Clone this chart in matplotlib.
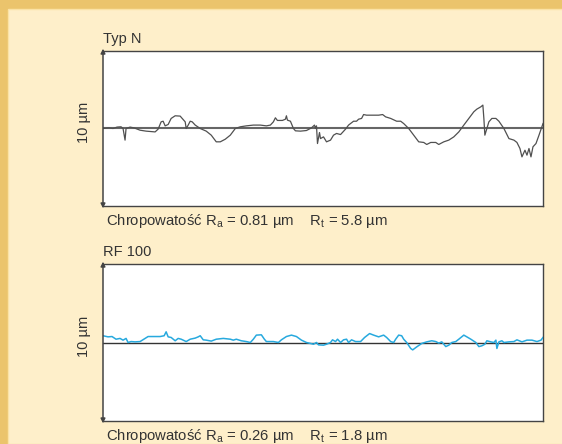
import matplotlib
matplotlib.use('Agg')
import matplotlib.pyplot as plt
from matplotlib.patches import Rectangle

plt.rcParams['font.family'] = ['Liberation Sans', 'DejaVu Sans']
plt.rcParams['mathtext.default'] = 'regular'

# ============================================================
# DATA  (position in mm, height in um)
# ============================================================
typ_n_x = [0.00, 0.06, 0.10, 0.14, 0.18, 0.20, 0.22, 0.23, 0.27, 0.31, 0.37, 0.43, 0.52, 0.55,
           0.58, 0.60, 0.62, 0.65, 0.68, 0.72, 0.77, 0.79, 0.82, 0.83, 0.85, 0.87, 0.89, 0.92,
           0.97, 1.03, 1.08, 1.13, 1.17, 1.22, 1.27, 1.32, 1.37, 1.43, 1.50, 1.57, 1.63, 1.67,
           1.70, 1.72, 1.74, 1.79, 1.82, 1.83, 1.84, 1.87, 1.90, 1.92, 1.97, 2.03, 2.08, 2.11,
           2.12, 2.13, 2.14, 2.16, 2.17, 2.20, 2.23, 2.27, 2.30, 2.33, 2.37, 2.42, 2.45, 2.50,
           2.53, 2.55, 2.58, 2.60, 2.63, 2.70, 2.75, 2.79, 2.82, 2.87, 2.93, 2.97, 3.00, 3.05,
           3.10, 3.15, 3.20, 3.23, 3.27, 3.32, 3.35, 3.40, 3.45, 3.50, 3.55, 3.60, 3.65, 3.70,
           3.73, 3.77, 3.79, 3.80, 3.81, 3.83, 3.85, 3.88, 3.92, 3.95, 4.00, 4.05, 4.10, 4.13,
           4.16, 4.18, 4.21, 4.23, 4.25, 4.27, 4.29, 4.32, 4.35, 4.39]
typ_n_y = [0.00, 0.04, 0.00, 0.09, 0.11, 0.00, -0.75, 0.00, 0.09, 0.04, -0.11, -0.17, -0.22, -0.04,
           0.43, 0.47, 0.17, 0.26, 0.65, 0.82, 0.80, 0.65, 0.43, 0.00, 0.22, 0.47, 0.43, 0.22,
           0.00, -0.17, -0.43, -0.86, -0.86, -0.69, -0.43, 0.00, 0.11, 0.17, 0.22, 0.22, 0.17, 0.22,
           0.43, 0.69, 0.52, 0.52, 0.60, 0.82, 0.54, 0.47, 0.00, -0.15, -0.17, -0.13, 0.04, 0.22,
           0.00, 0.17, -0.97, -0.26, -0.65, -0.54, -0.86, -0.75, -0.43, -0.32, -0.39, -0.04, 0.22, 0.47,
           0.47, 0.60, 0.65, 0.90, 0.86, 0.86, 0.86, 0.90, 0.75, 0.65, 0.47, 0.47, 0.32, 0.00,
           -0.43, -0.86, -0.90, -1.03, -0.90, -0.90, -1.03, -0.86, -0.75, -0.54, -0.22, 0.22, 0.65, 1.08,
           1.25, 1.40, 1.51, 0.65, -0.43, 0.00, 0.43, 0.65, 0.65, 0.47, 0.00, -0.65, -0.75, -0.90,
           -1.29, -1.83, -1.40, -1.72, -1.29, -1.83, -1.18, -0.97, -0.43, 0.32]

rf100_x = [0.00, 0.05, 0.09, 0.13, 0.17, 0.20, 0.23, 0.25, 0.28, 0.32, 0.37, 0.42, 0.45, 0.50,
           0.57, 0.61, 0.63, 0.65, 0.68, 0.72, 0.75, 0.78, 0.83, 0.87, 0.92, 0.95, 0.97, 1.00,
           1.03, 1.08, 1.13, 1.20, 1.27, 1.30, 1.33, 1.38, 1.43, 1.47, 1.50, 1.53, 1.58, 1.61,
           1.63, 1.70, 1.75, 1.78, 1.83, 1.88, 1.93, 1.98, 2.03, 2.07, 2.10, 2.13, 2.15, 2.20,
           2.23, 2.27, 2.29, 2.32, 2.34, 2.37, 2.40, 2.43, 2.45, 2.48, 2.52, 2.57, 2.61, 2.66,
           2.70, 2.75, 2.80, 2.83, 2.87, 2.90, 2.92, 2.95, 2.98, 3.00, 3.03, 3.07, 3.09, 3.13,
           3.18, 3.23, 3.28, 3.32, 3.35, 3.38, 3.42, 3.45, 3.48, 3.52, 3.55, 3.60, 3.63, 3.67,
           3.72, 3.75, 3.78, 3.81, 3.83, 3.87, 3.90, 3.92, 3.93, 3.95, 3.98, 4.00, 4.05, 4.10,
           4.13, 4.18, 4.23, 4.28, 4.33, 4.37, 4.39]
rf100_y = [0.43, 0.36, 0.38, 0.21, 0.26, 0.15, 0.26, 0.00, 0.06, 0.04, 0.06, 0.26, 0.38, 0.38,
           0.38, 0.43, 0.68, 0.36, 0.32, 0.11, 0.26, 0.21, 0.06, 0.21, 0.28, 0.36, 0.43, 0.17,
           0.15, 0.09, 0.21, 0.26, 0.21, 0.15, 0.21, 0.11, 0.06, 0.00, 0.21, 0.47, 0.49, 0.21,
           0.06, 0.06, 0.00, 0.17, 0.38, 0.47, 0.38, 0.15, 0.00, -0.06, -0.11, 0.00, -0.15, -0.17,
           -0.11, 0.00, 0.17, 0.06, 0.21, 0.00, 0.17, 0.21, 0.00, 0.17, 0.06, 0.06, 0.32, 0.57,
           0.47, 0.36, 0.47, 0.32, 0.06, 0.00, 0.21, 0.47, 0.43, 0.21, 0.00, -0.38, -0.47, -0.28,
           -0.06, 0.04, 0.11, 0.06, -0.04, 0.04, -0.26, -0.17, 0.00, 0.06, 0.21, 0.47, 0.36, 0.21,
           0.00, -0.26, -0.21, -0.11, 0.11, 0.04, 0.00, 0.15, -0.38, 0.04, 0.11, 0.00, 0.04, 0.06,
           0.17, 0.04, 0.15, 0.15, 0.06, 0.15, 0.32]

titles = ['Typ N', 'RF 100']
captions = ['Chropowatość R$_a$ = 0.81 µm    R$_t$ = 5.8 µm',
            'Chropowatość R$_a$ = 0.26 µm    R$_t$ = 1.8 µm']
y_label = '10 µm'

# ============================================================
# FIGURE
# ============================================================
fig = plt.figure(figsize=(5.62, 4.44), dpi=100)
fig.patch.set_facecolor('#EBC46C')

# cream panel behind everything
bg = fig.add_axes([0, 0, 1, 1], zorder=-10)
bg.set_xlim(0, 1)
bg.set_ylim(0, 1)
bg.axis('off')
bg.add_patch(Rectangle((8/562, 0), 1, 1 - 9/444, facecolor='#FEEFCA',
                       edgecolor='#FBE3A6', lw=1))

ax1 = fig.add_axes([103/562, 1 - 206/444, 440/562, 155/444])
ax2 = fig.add_axes([103/562, 1 - 421/444, 440/562, 157/444])

# trace colour, trace width, zero-line colour, zero-line width
series = [(typ_n_x, typ_n_y, '#505050', 0.9, '#666666', 1.5),
          (rf100_x, rf100_y, '#27A9DE', 1.1, '#333333', 1.0)]

for ax, (xs, ys, col, lw, zc, zw), title, cap in zip([ax1, ax2], series, titles, captions):
    ax.set_facecolor('white')
    ax.axhline(0, color=zc, lw=zw, zorder=2)
    ax.plot(xs, ys, color=col, lw=lw, zorder=3)
    ax.set_xlim(0, 4.39)
    ax.set_ylim(-5, 5)
    ax.set_xticks([])
    ax.set_yticks([])
    for s in ax.spines.values():
        s.set_color('#444444')
        s.set_linewidth(1.0)
    ax.spines['left'].set_visible(False)
    ax.annotate('', xy=(0, 1.015), xytext=(0, -0.015), xycoords='axes fraction',
                arrowprops=dict(arrowstyle='<|-|>', color='#444444', lw=1.1,
                                mutation_scale=6.5, shrinkA=0, shrinkB=0),
                annotation_clip=False)
    ax.annotate(title, xy=(0, 1), xycoords='axes fraction', xytext=(0, 8),
                textcoords='offset pixels', ha='left', va='baseline',
                fontsize=10.5, color='#333333')
    ax.annotate(cap, xy=(0, 0), xycoords='axes fraction', xytext=(3, -19),
                textcoords='offset pixels', ha='left', va='baseline',
                fontsize=10.7, color='#333333')
    ax.annotate(y_label, xy=(0, 0.54), xycoords='axes fraction', xytext=(-19, 0),
                textcoords='offset pixels', ha='center', va='center', rotation=90,
                fontsize=10.5, color='#333333')

fig.savefig('out.png', dpi=100, facecolor=fig.get_facecolor())
